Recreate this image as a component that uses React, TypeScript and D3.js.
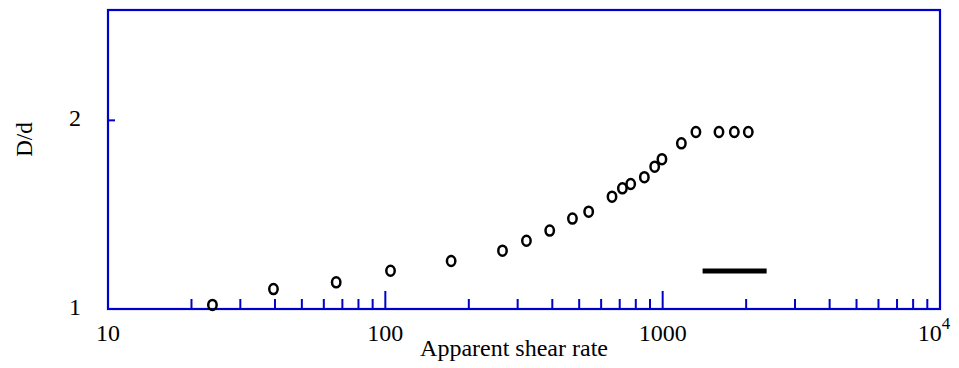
import * as d3 from 'd3'

const shearRate = [
  23.8, 39.5, 66.5, 104.4, 172.7, 264.5, 322.7, 391.5, 472.8, 541, 656.7, 715.8, 766.9, 859,
  935.9, 994, 1168, 1318, 1596, 1813, 2036,
]
const ratioDd = [
  1.015, 1.076, 1.103, 1.151, 1.193, 1.239, 1.285, 1.334, 1.394, 1.43, 1.511, 1.558, 1.583,
  1.623, 1.687, 1.734, 1.838, 1.916, 1.916, 1.916, 1.916,
]
// thick black bar drawn in the plot
const barX = [1393, 2371]
const barY = 1.15

const xMajorTicks = [10, 100, 1000, 10000]
const xTickLabels = ['10', '100', '1000', '10']
const yTicks = [1, 2]
const yTickLabels = ['1', '2']

const W = 959
const H = 368
const margin = { left: 108, right: 19, top: 10, bottom: 59 }
const BLUE = '#0000cc'
const FONT = '"Liberation Serif", "Times New Roman", serif'

export default function App() {
  const x = d3
    .scaleLog()
    .domain([10, 10000])
    .range([margin.left, W - margin.right])
  const y = d3
    .scaleLog()
    .domain([1, 3])
    .range([H - margin.bottom, margin.top])

  const x0 = x.range()[0]
  const x1 = x.range()[1]
  const y0 = y.range()[0]
  const y1 = y.range()[1]

  const minorTicks = x.ticks().filter((t) => !xMajorTicks.includes(t))

  return (
    <svg
      width={W}
      height={H}
      style={{ position: 'absolute', left: 0, top: 0, background: '#fff' }}
      fontFamily={FONT}
    >
      {/* ticks */}
      {minorTicks.map((t) => (
        <line key={`m${t}`} x1={x(t)} x2={x(t)} y1={y0} y2={y0 - 10} stroke={BLUE} strokeWidth={2} />
      ))}
      {xMajorTicks.map((t) => (
        <line key={`M${t}`} x1={x(t)} x2={x(t)} y1={y0} y2={y0 - 18} stroke={BLUE} strokeWidth={2} />
      ))}
      {yTicks.map((t) => (
        <line key={`y${t}`} x1={x0} x2={x0 + 7} y1={y(t)} y2={y(t)} stroke={BLUE} strokeWidth={2} />
      ))}

      {/* frame */}
      <rect x={x0} y={y1} width={x1 - x0} height={y0 - y1} fill="none" stroke={BLUE} strokeWidth={2.2} />

      {/* x tick labels */}
      {xMajorTicks.map((t, i) =>
        i === xMajorTicks.length - 1 ? (
          <text key={`xl${t}`} x={x(t) - 6} y={341} fontSize={24} textAnchor="middle" fill="#000">
            {xTickLabels[i]}
            <tspan fontSize={17} dy={-12}>
              4
            </tspan>
          </text>
        ) : (
          <text key={`xl${t}`} x={x(t)} y={341} fontSize={24} textAnchor="middle" fill="#000">
            {xTickLabels[i]}
          </text>
        ),
      )}

      {/* y tick labels */}
      {yTicks.map((t, i) => (
        <text
          key={`yl${t}`}
          x={81}
          y={i === 0 ? y(t) + 6 : y(t) + 6}
          fontSize={24}
          textAnchor="end"
          fill="#000"
        >
          {yTickLabels[i]}
        </text>
      ))}

      {/* axis titles */}
      <text x={(x0 + x1) / 2 - 10} y={356} fontSize={24} textAnchor="middle" fill="#000">
        Apparent shear rate
      </text>
      <text
        transform={`translate(32, ${(y0 + y1) / 2 - 20}) rotate(-90)`}
        fontSize={23}
        textAnchor="middle"
        fill="#000"
      >
        D/d
      </text>

      {/* data */}
      {shearRate.map((s, i) => (
        <ellipse
          key={`p${i}`}
          cx={x(s)}
          cy={y(ratioDd[i])}
          rx={4.2}
          ry={5}
          fill="none"
          stroke="#000"
          strokeWidth={2.5}
        />
      ))}

      <line
        x1={x(barX[0])}
        x2={x(barX[1])}
        y1={y(barY)}
        y2={y(barY)}
        stroke="#000"
        strokeWidth={5}
      />
    </svg>
  )
}
